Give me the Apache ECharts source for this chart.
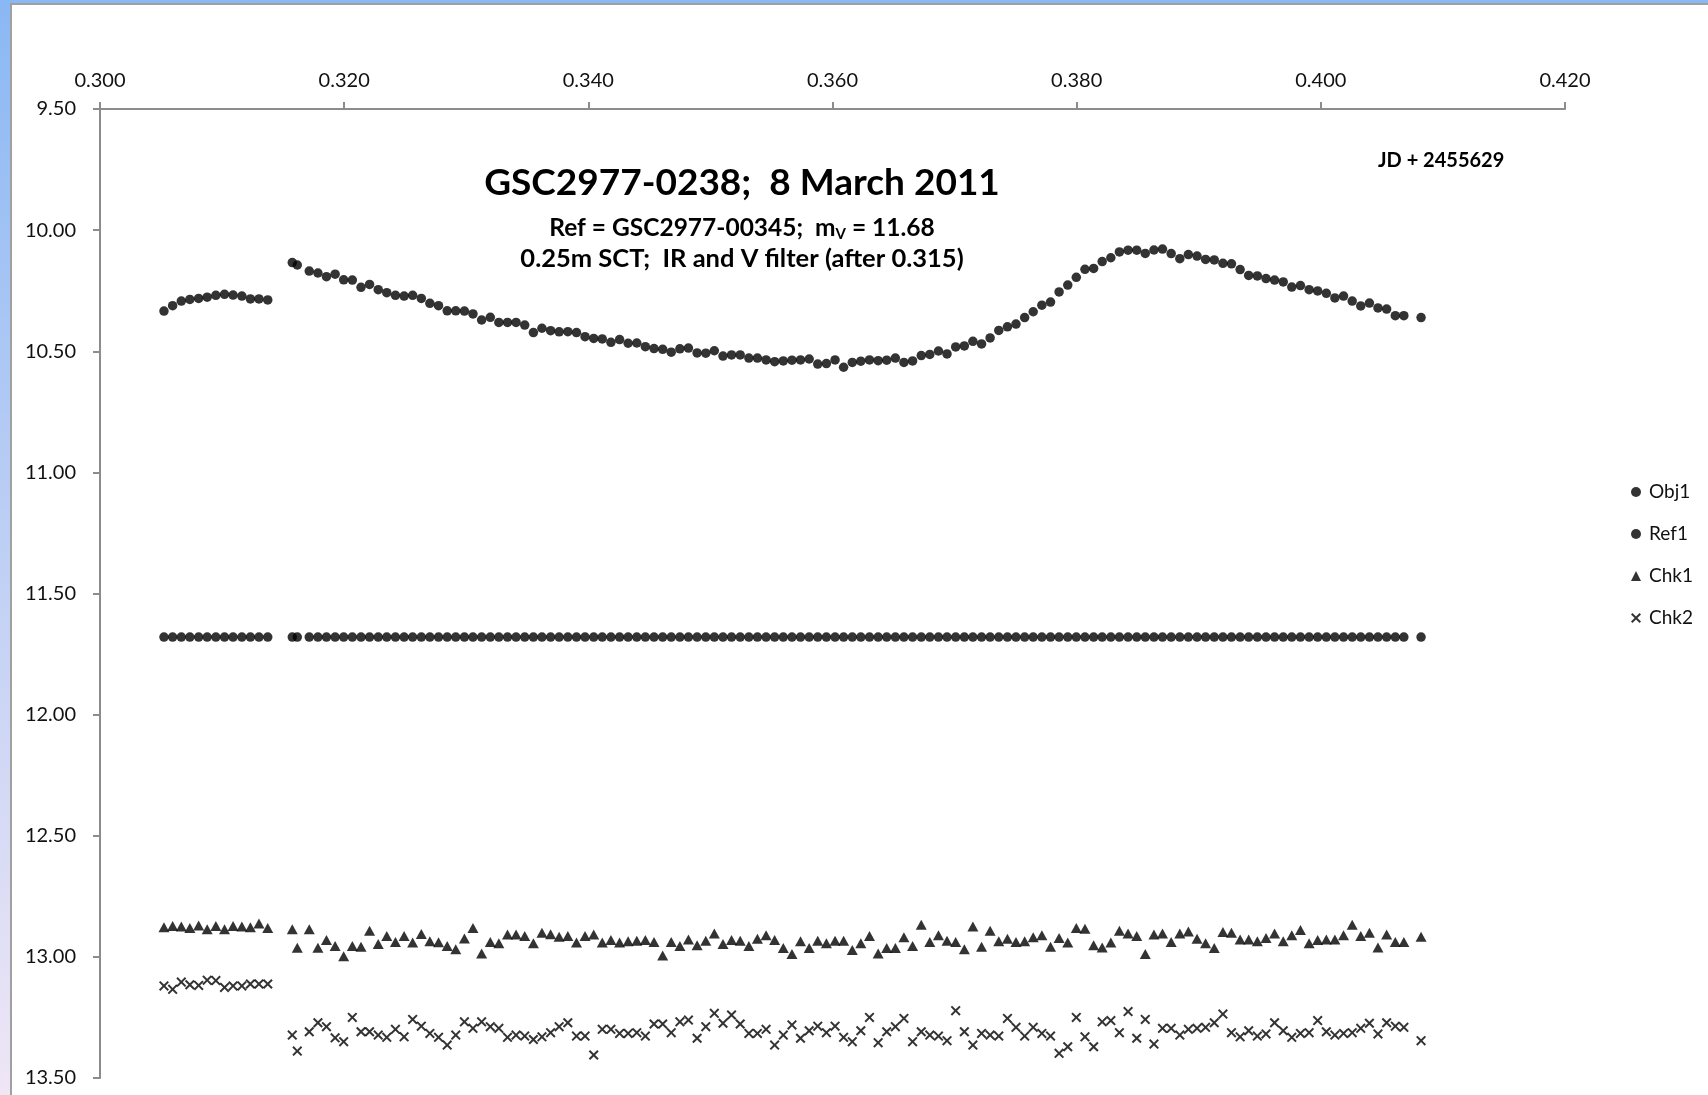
<!DOCTYPE html>
<html>
<head>
<meta charset="utf-8">
<script src="https://cdn.jsdelivr.net/npm/echarts/dist/echarts.min.js"></script>
<style>
html,body{margin:0;padding:0;width:1708px;height:1095px;overflow:hidden;}
body{background:linear-gradient(to bottom,#8ab8f4 0%,#b9cdf4 45%,#efe6f6 100%);position:relative;}
#panel{position:absolute;left:10px;top:3px;width:1710px;height:1100px;background:#fff;border:2px solid #a0a0a0;box-sizing:border-box;}
#chart{position:absolute;left:0;top:0;width:1708px;height:1095px;}
</style>
</head>
<body>
<div id="panel"></div>
<div id="chart"></div>
<script>
// Time (JD - 2455629)
const jd = [
0.30524,0.30595,0.30666,0.30736,0.30808,0.30878,0.30949,0.31020,0.31090,0.31162,0.31232,0.31302,0.31374,
0.31575,0.31616,
0.31714,0.31785,0.31855,0.31926,0.31996,0.32067,0.32138,0.32208,0.32279,0.32349,
0.32420,0.32491,0.32561,0.32632,0.32702,0.32773,0.32844,0.32914,0.32985,0.33055,
0.33126,0.33197,0.33267,0.33338,0.33408,0.33479,0.33550,0.33620,0.33691,0.33761,
0.33832,0.33903,0.33973,0.34044,0.34114,0.34185,0.34256,0.34326,0.34397,0.34467,
0.34538,0.34609,0.34679,0.34750,0.34820,0.34891,0.34962,0.35032,0.35103,0.35173,
0.35244,0.35315,0.35385,0.35456,0.35526,0.35597,0.35668,0.35738,0.35809,0.35879,
0.35950,0.36021,0.36091,0.36162,0.36232,0.36303,0.36374,0.36444,0.36515,0.36585,
0.36656,0.36727,0.36797,0.36868,0.36938,0.37009,0.37080,0.37150,0.37221,0.37291,
0.37362,0.37433,0.37503,0.37574,0.37644,0.37715,0.37786,0.37856,0.37927,0.37997,
0.38068,0.38139,0.38209,0.38280,0.38350,0.38421,0.38492,0.38562,0.38633,0.38703,
0.38774,0.38845,0.38915,0.38986,0.39056,0.39127,0.39198,0.39268,0.39339,0.39409,
0.39480,0.39551,0.39621,0.39692,0.39762,0.39833,0.39904,0.39974,0.40045,0.40115,
0.40186,0.40257,0.40327,0.40398,0.40468,0.40539,0.40610,0.40680,
0.40821
];
const obj1 = [
10.334,10.312,10.293,10.286,10.282,10.277,10.269,10.265,10.268,10.272,10.284,10.284,10.288,
10.134,10.144,
10.169,10.177,10.192,10.182,10.205,10.206,10.236,10.224,10.246,10.258,10.269,10.272,10.269,10.282,
10.302,10.312,10.333,10.333,10.334,10.346,10.371,10.360,10.381,10.381,10.381,10.392,10.423,10.405,
10.415,10.420,10.419,10.423,10.440,10.447,10.449,10.463,10.452,10.467,10.466,10.481,10.489,10.492,
10.504,10.490,10.487,10.507,10.508,10.498,10.520,10.515,10.515,10.528,10.528,10.536,10.543,10.540,
10.537,10.536,10.532,10.553,10.551,10.536,10.566,10.546,10.541,10.536,10.539,
10.537,10.528,10.546,10.540,10.518,10.513,10.499,10.511,10.482,10.478,10.459,10.470,10.445,10.414,
10.399,10.388,10.361,10.337,10.310,10.297,10.255,10.227,10.195,10.162,10.158,10.130,10.114,10.090,
10.083,10.083,10.096,10.082,10.078,10.097,10.118,10.101,10.107,10.121,10.123,10.137,10.139,10.163,
10.187,10.189,10.200,10.206,10.214,10.235,10.229,10.246,10.251,10.261,10.280,10.272,10.293,10.313,
10.301,10.321,10.326,10.353,10.353,
10.361
];
const ref1 = [
11.68,11.68,11.68,11.68,11.68,11.68,11.68,11.68,11.68,11.68,11.68,11.68,11.68,
11.68,11.68,
11.68,11.68,11.68,11.68,11.68,11.68,11.68,11.68,11.68,11.68,11.68,11.68,11.68,11.68,11.68,11.68,
11.68,11.68,11.68,11.68,11.68,11.68,11.68,11.68,11.68,11.68,11.68,11.68,11.68,11.68,11.68,11.68,
11.68,11.68,11.68,11.68,11.68,11.68,11.68,11.68,11.68,11.68,11.68,11.68,11.68,11.68,11.68,11.68,
11.68,11.68,11.68,11.68,11.68,11.68,11.68,11.68,11.68,11.68,11.68,11.68,11.68,11.68,11.68,11.68,
11.68,11.68,11.68,11.68,11.68,11.68,11.68,11.68,11.68,11.68,11.68,11.68,11.68,11.68,11.68,11.68,
11.68,11.68,11.68,11.68,11.68,11.68,11.68,11.68,11.68,11.68,11.68,11.68,11.68,11.68,11.68,11.68,
11.68,11.68,11.68,11.68,11.68,11.68,11.68,11.68,11.68,11.68,11.68,11.68,11.68,11.68,11.68,11.68,
11.68,11.68,11.68,11.68,11.68,11.68,11.68,11.68,11.68,11.68,11.68,11.68,11.68,11.68,11.68,11.68,
11.68
];
const chk1 = [
12.878,12.873,12.875,12.881,12.870,12.886,12.873,12.886,12.873,12.875,12.878,12.862,12.881,
12.886,12.962,
12.886,12.962,12.930,12.955,12.997,12.955,12.958,12.892,12.947,12.914,12.939,12.914,12.941,12.906,
12.936,12.940,12.955,12.969,12.924,12.881,12.986,12.939,12.944,12.908,12.908,12.914,12.944,12.900,
12.907,12.917,12.914,12.941,12.914,12.908,12.941,12.930,12.941,12.936,12.933,12.930,12.939,12.994,
12.939,12.955,12.928,12.952,12.933,12.903,12.947,12.930,12.933,12.955,12.925,12.911,12.930,12.963,
12.988,12.936,12.963,12.933,12.944,12.933,12.933,12.972,12.944,12.914,12.986,12.963,12.963,12.919,
12.955,12.867,12.939,12.911,12.933,12.939,12.969,12.875,12.958,12.892,12.936,
12.925,12.939,12.936,12.919,12.911,12.958,12.922,12.941,12.881,12.884,12.952,12.961,12.941,12.892,
12.903,12.914,12.988,12.908,12.903,12.939,12.903,12.895,12.925,12.944,12.963,12.897,12.900,12.928,
12.928,12.936,12.922,12.903,12.936,12.911,12.889,12.944,12.930,12.928,12.928,12.911,12.867,12.914,
12.900,12.961,12.908,12.939,12.939,
12.917
];
const chk2 = [
13.120,13.134,13.104,13.115,13.118,13.096,13.098,13.126,13.120,13.120,13.112,13.112,13.112,
13.323,13.389,
13.309,13.272,13.288,13.334,13.350,13.250,13.309,13.309,13.323,13.332,13.299,13.330,13.258,13.286,
13.316,13.332,13.364,13.323,13.268,13.295,13.268,13.288,13.295,13.332,13.323,13.327,13.341,13.330,
13.313,13.288,13.272,13.327,13.327,13.405,13.299,13.299,13.316,13.316,13.313,13.327,13.277,13.277,
13.313,13.268,13.261,13.336,13.288,13.233,13.274,13.240,13.277,13.316,13.316,13.299,13.364,13.323,
13.281,13.336,13.305,13.286,13.313,13.286,13.332,13.350,13.305,13.250,13.354,13.309,13.288,13.254,
13.350,13.309,13.323,13.327,13.346,13.222,13.309,13.364,13.316,13.323,13.327,
13.254,13.291,13.327,13.291,13.316,13.327,13.398,13.371,13.250,13.330,13.371,13.268,13.263,13.313,
13.226,13.336,13.258,13.360,13.295,13.295,13.323,13.299,13.295,13.291,13.272,13.236,13.313,13.330,
13.305,13.327,13.318,13.272,13.305,13.332,13.316,13.313,13.263,13.309,13.323,13.316,13.313,13.295,
13.274,13.318,13.272,13.286,13.291,
13.346
];

const seriesNames = ['Obj1','Ref1','Chk1','Chk2'];
const xTickMin = 0.30, xTickMax = 0.42, xTickStep = 0.02;
const yTickMin = 9.5, yTickMax = 13.5, yTickStep = 0.5;
const titleText = 'GSC2977-0238;  8 March 2011';
const sub1a = 'Ref = GSC2977-00345;  m', sub1sub = 'V', sub1b = ' = 11.68';
const sub2 = '0.25m SCT;  IR and V filter (after 0.315)';
const jdText = 'JD + 2455629';

const CROSS = 'path://M0,14L14,0L50,36L86,0L100,14L64,50L100,86L86,100L50,64L14,100L0,86L36,50Z';
const FONT = 'Lato';
const axisCol = '#8c8c8c';

const pairs = arr => jd.map((x, i) => [x, arr[i]]);

const chart = echarts.init(document.getElementById('chart'), null, {renderer: 'canvas'});
chart.setOption({
  animation: false,
  backgroundColor: 'transparent',
  grid: {left: 100, top: 109, width: 1465, height: 969, containLabel: false},
  xAxis: {
    type: 'value', position: 'top', min: xTickMin, max: xTickMax, interval: xTickStep,
    axisLine: {show: true, onZero: false, lineStyle: {color: axisCol, width: 2}},
    axisTick: {show: true, length: 7, inside: false, lineStyle: {color: axisCol, width: 2}},
    axisLabel: {formatter: v => v.toFixed(3), fontFamily: FONT, fontSize: 20, color: '#111', margin: 18},
    splitLine: {show: false}
  },
  yAxis: {
    type: 'value', inverse: true, min: yTickMin, max: yTickMax, interval: yTickStep,
    axisLine: {show: true, onZero: false, lineStyle: {color: axisCol, width: 2}},
    axisTick: {show: true, length: 7, inside: false, lineStyle: {color: axisCol, width: 2}},
    axisLabel: {formatter: v => v.toFixed(2), fontFamily: FONT, fontSize: 20, color: '#111', margin: 24},
    splitLine: {show: false}
  },
  legend: {
    orient: 'vertical', left: 1626, top: 477, itemWidth: 10, itemHeight: 10, itemGap: 22,
    textStyle: {fontFamily: FONT, fontSize: 19, color: '#111', lineHeight: 20, padding: [0, 0, 0, 3]},
    data: [
      {name: seriesNames[0], icon: 'circle'},
      {name: seriesNames[1], icon: 'circle'},
      {name: seriesNames[2], icon: 'triangle'},
      {name: seriesNames[3], icon: CROSS}
    ]
  },
  graphic: [
    {type: 'text', x: 742, y: 183, style: {text: titleText, fontFamily: FONT, fontWeight: 'bold', fontSize: 37, fill: '#000', align: 'center', verticalAlign: 'middle'}},
    {type: 'text', x: 742, y: 228, style: {
      text: '{a|' + sub1a + '}{s|' + sub1sub + '}{a|' + sub1b + '}',
      align: 'center', verticalAlign: 'middle',
      rich: {
        a: {fontFamily: FONT, fontWeight: 'bold', fontSize: 24.5, fill: '#000', lineHeight: 28},
        s: {fontFamily: FONT, fontWeight: 'bold', fontSize: 15, fill: '#000', lineHeight: 15, verticalAlign: 'bottom'}
      }
    }},
    {type: 'text', x: 742, y: 259, style: {text: sub2, fontFamily: FONT, fontWeight: 'bold', fontSize: 25.5, fill: '#000', align: 'center', verticalAlign: 'middle'}},
    {type: 'text', x: 1378, y: 161, style: {text: jdText, fontFamily: FONT, fontWeight: 'bold', fontSize: 20, fill: '#000', align: 'left', verticalAlign: 'middle'}}
  ],
  series: [
    {type: 'scatter', name: seriesNames[0], data: pairs(obj1), symbol: 'circle', symbolSize: 9.5, itemStyle: {color: '#000'}},
    {type: 'scatter', name: seriesNames[1], data: pairs(ref1), symbol: 'circle', symbolSize: 9.5, itemStyle: {color: '#000'}},
    {type: 'scatter', name: seriesNames[2], data: pairs(chk1), symbol: 'triangle', symbolSize: [11, 10], itemStyle: {color: '#000'}},
    {type: 'scatter', name: seriesNames[3], data: pairs(chk2), symbol: CROSS, symbolSize: 10, itemStyle: {color: '#000'}}
  ]
});
</script>
</body>
</html>
